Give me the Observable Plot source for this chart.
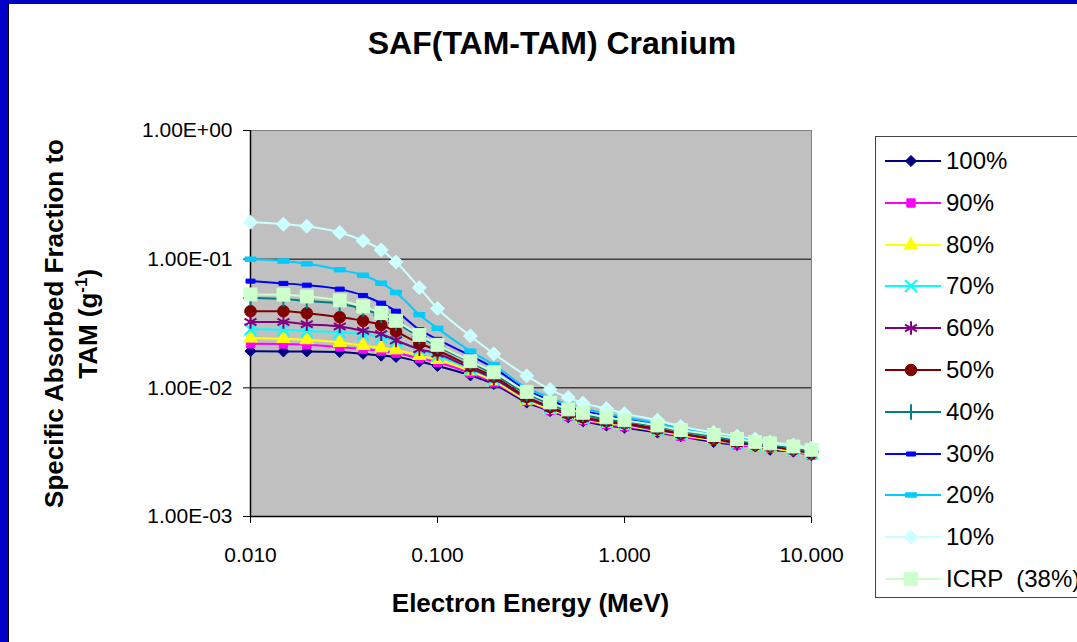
<!DOCTYPE html>
<html>
<head>
<meta charset="utf-8">
<script src="https://cdn.jsdelivr.net/npm/d3@7"></script>
<script src="https://cdn.jsdelivr.net/npm/@observablehq/plot@0.6"></script>
<style>
  html, body { margin: 0; padding: 0; background: #fff; overflow: hidden; }
  #frame { position: relative; width: 1077px; height: 642px; overflow: hidden; background: #0000c8; font-family: "Liberation Sans", Arial, sans-serif; }
  #inner { position: absolute; left: 8px; top: 3px; width: 1200px; height: 700px; background: #fff; border-left: 1px solid #000; border-top: 1px solid #000; }
  .abs { position: absolute; }
  #title { left: 0; width: 1104px; top: 25px; text-align: center; font-weight: bold; font-size: 32px; }
  #xtitle { left: 250px; width: 561px; top: 588px; text-align: center; font-weight: bold; font-size: 26px; }
  .ytitle { width: 500px; text-align: center; font-weight: bold; font-size: 26px; transform-origin: center center; transform: rotate(-90deg); }
  #legend { left: 875px; top: 136px; width: 400px; height: 462px; border: 1px solid #444; background: #fff; box-sizing: border-box; }
  .lrow { position: absolute; left: 0; height: 30px; display: flex; align-items: center; font-size: 24px; white-space: pre; }
  .lrow svg { margin-left: 9px; margin-right: 5px; }
</style>
</head>
<body>
<div id="frame">
  <div id="inner"></div>
  <div id="plotholder" class="abs" style="left:0;top:0;"></div>
  <div id="title" class="abs">SAF(TAM-TAM) Cranium</div>
  <div id="xtitle" class="abs">Electron Energy (MeV)</div>
  <div class="abs ytitle" style="left:-196px; top:308px;">Specific Absorbed Fraction to</div>
  <div class="abs ytitle" style="left:-162px; top:308px;">TAM (g<sup style="font-size:17px">-1</sup>)</div>
  <div id="legend" class="abs"></div>
</div>
<script>
// ---- data ----
const energies = [0.01, 0.015, 0.02, 0.03, 0.04, 0.05, 0.06, 0.08, 0.1, 0.15, 0.2, 0.3, 0.4, 0.5, 0.6, 0.8, 1, 1.5, 2, 3, 4, 5, 6, 8, 10];
const seriesNames = ["100%", "90%", "80%", "70%", "60%", "50%", "40%", "30%", "20%", "10%", "ICRP  (38%)"];
const saf100 = [0.0193, 0.0192, 0.0192, 0.0190, 0.0184, 0.0178, 0.0174, 0.0160, 0.0148, 0.0125, 0.0107, 0.0077, 0.0066, 0.0059, 0.0055, 0.0051, 0.0049, 0.0045, 0.0042, 0.0038, 0.0036, 0.0035, 0.0033, 0.0032, 0.0030];
const saf90  = [0.0220, 0.0219, 0.0216, 0.0208, 0.0200, 0.0193, 0.0186, 0.0170, 0.0158, 0.0130, 0.0110, 0.0079, 0.0067, 0.0060, 0.0056, 0.0052, 0.0050, 0.0046, 0.0042, 0.0039, 0.0036, 0.0035, 0.0034, 0.0032, 0.0030];
const saf80  = [0.0243, 0.0241, 0.0236, 0.0225, 0.0213, 0.0204, 0.0197, 0.0178, 0.0166, 0.0135, 0.0113, 0.0080, 0.0068, 0.0061, 0.0057, 0.0053, 0.0051, 0.0046, 0.0043, 0.0039, 0.0037, 0.0035, 0.0034, 0.0032, 0.0031];
const saf70  = [0.0285, 0.0283, 0.0276, 0.0270, 0.0260, 0.0248, 0.0230, 0.0198, 0.0178, 0.0140, 0.0117, 0.0083, 0.0070, 0.0062, 0.0058, 0.0054, 0.0052, 0.0047, 0.0044, 0.0040, 0.0037, 0.0036, 0.0035, 0.0033, 0.0031];
const saf60  = [0.0325, 0.0325, 0.0312, 0.0300, 0.0278, 0.0262, 0.0234, 0.0200, 0.0184, 0.0142, 0.0118, 0.0083, 0.0070, 0.0062, 0.0058, 0.0054, 0.0052, 0.0047, 0.0044, 0.0040, 0.0037, 0.0036, 0.0035, 0.0033, 0.0031];
const saf50  = [0.0394, 0.0394, 0.0380, 0.0354, 0.0332, 0.0308, 0.0274, 0.0222, 0.0195, 0.0148, 0.0122, 0.0085, 0.0071, 0.0063, 0.0059, 0.0055, 0.0053, 0.0048, 0.0044, 0.0040, 0.0038, 0.0036, 0.0035, 0.0033, 0.0031];
const saf40  = [0.0500, 0.0490, 0.0472, 0.0450, 0.0410, 0.0365, 0.0320, 0.0250, 0.0210, 0.0158, 0.0128, 0.0090, 0.0075, 0.0066, 0.0062, 0.0057, 0.0055, 0.0050, 0.0046, 0.0042, 0.0039, 0.0037, 0.0036, 0.0034, 0.0032];
const saf30  = [0.0675, 0.0648, 0.0628, 0.0585, 0.0522, 0.0455, 0.0394, 0.0283, 0.0238, 0.0178, 0.0143, 0.0096, 0.0080, 0.0071, 0.0066, 0.0061, 0.0058, 0.0052, 0.0048, 0.0043, 0.0040, 0.0038, 0.0037, 0.0035, 0.0033];
const saf20  = [0.1000, 0.0966, 0.0920, 0.0828, 0.0750, 0.0650, 0.0550, 0.0370, 0.0290, 0.0193, 0.0151, 0.0100, 0.0084, 0.0074, 0.0069, 0.0063, 0.0059, 0.0053, 0.0048, 0.0044, 0.0041, 0.0039, 0.0037, 0.0035, 0.0033];
const saf10  = [0.194, 0.187, 0.180, 0.161, 0.139, 0.118, 0.095, 0.060, 0.0414, 0.0253, 0.0184, 0.0124, 0.0097, 0.0084, 0.0076, 0.0069, 0.0063, 0.0056, 0.0050, 0.0045, 0.0042, 0.0040, 0.0038, 0.0036, 0.0034];
const safICRP = [0.0532, 0.0530, 0.0513, 0.0478, 0.0429, 0.0381, 0.0332, 0.0258, 0.0216, 0.0161, 0.0132, 0.0093, 0.0077, 0.0068, 0.0064, 0.0059, 0.0056, 0.0051, 0.0047, 0.0043, 0.0040, 0.0038, 0.0037, 0.0035, 0.0033];
const xTicks = [0.01, 0.1, 1, 10];
const yTicks = [1, 0.1, 0.01, 0.001];
const gridValues = [0.1, 0.01];

// ---- styling per series ----
const dash = (ratio) => ({
  draw(ctx, size) {
    const s = Math.sqrt(size / Math.PI);
    ctx.moveTo(-s, -s * ratio); ctx.lineTo(s, -s * ratio); ctx.lineTo(s, s * ratio); ctx.lineTo(-s, s * ratio); ctx.closePath();
  }
});
const styles = {
  "100%": {color: "#000080", symbol: "diamond2", d3sym: d3.symbolDiamond2, r: 5, filled: true},
  "90%": {color: "#ff00ff", symbol: "square", d3sym: d3.symbolSquare, r: 4.7, filled: true},
  "80%": {color: "#ffff00", symbol: "triangle", d3sym: d3.symbolTriangle, r: 5, filled: true},
  "70%": {color: "#00ffff", symbol: "times", d3sym: d3.symbolTimes, r: 5.5, filled: false},
  "60%": {color: "#800080", symbol: "asterisk", d3sym: d3.symbolAsterisk, r: 6.5, filled: false},
  "50%": {color: "#800000", symbol: "circle", d3sym: d3.symbolCircle, r: 5.8, filled: true},
  "40%": {color: "#008080", symbol: "plus", d3sym: d3.symbolPlus, r: 5, filled: false},
  "30%": {color: "#0000ff", symbol: dash(0.45), d3sym: dash(0.45), r: 4.5, filled: true},
  "20%": {color: "#00ccff", symbol: dash(0.4), d3sym: dash(0.4), r: 5.5, filled: true},
  "10%": {color: "#ccffff", symbol: "diamond2", d3sym: d3.symbolDiamond2, r: 6.3, filled: true},
  "ICRP  (38%)": {color: "#ccffcc", symbol: "square", d3sym: d3.symbolSquare, r: 7.3, filled: true}
};
const seriesValues = [saf100, saf90, saf80, saf70, saf60, saf50, saf40, saf30, saf20, saf10, safICRP];

const rows = [];
seriesNames.forEach((name, i) => energies.forEach((e, j) => rows.push({series: name, energy: e, saf: seriesValues[i][j]})));

const fmtY = d => { const e = Math.round(Math.log10(d)); return "1.00E" + (e < 0 ? "-" : "+") + String(Math.abs(e)).padStart(2, "0"); };

const marks = [
  Plot.frame({fill: "#c0c0c0", stroke: "#808080"}),
  Plot.ruleY(gridValues, {stroke: "#000", strokeWidth: 1}),
  Plot.ruleX([0.01], {stroke: "#000", strokeWidth: 1.5}),
  Plot.ruleY([0.001], {stroke: "#000", strokeWidth: 1.5})
];
seriesNames.forEach(name => {
  const st = styles[name];
  const d = rows.filter(r => r.series === name);
  marks.push(Plot.line(d, {x: "energy", y: "saf", stroke: st.color, strokeWidth: 2, curve: "monotone-x"}));
  marks.push(Plot.dot(d, st.filled
    ? {x: "energy", y: "saf", symbol: st.symbol, r: st.r, fill: st.color, stroke: st.color, strokeWidth: 1}
    : {x: "energy", y: "saf", symbol: st.symbol, r: st.r, fill: "none", stroke: st.color, strokeWidth: 2}));
});

const chart = Plot.plot({
  width: 870,
  height: 642,
  marginLeft: 250,
  marginRight: 59,
  marginTop: 130,
  marginBottom: 126,
  style: {background: "transparent", fontFamily: "'Liberation Sans', Arial, sans-serif", fontSize: "21px", color: "#000", overflow: "visible"},
  x: {type: "log", domain: [0.01, 10], ticks: xTicks, tickFormat: d3.format(".3f"), tickSize: 7, tickPadding: 24, label: null},
  y: {type: "log", domain: [0.001, 1], ticks: yTicks, tickFormat: fmtY, tickSize: 7, tickPadding: 11, label: null},
  marks
});
document.getElementById("plotholder").appendChild(chart);

// ---- legend ----
const legend = document.getElementById("legend");
seriesNames.forEach((name, i) => {
  const st = styles[name];
  const row = document.createElement("div");
  row.className = "lrow";
  row.style.top = (9 + i * 41.8) + "px";
  const svg = d3.create("svg").attr("width", 56).attr("height", 20);
  svg.append("line").attr("x1", 0).attr("x2", 56).attr("y1", 10).attr("y2", 10).attr("stroke", st.color).attr("stroke-width", 2);
  svg.append("path")
    .attr("transform", "translate(26,10)")
    .attr("d", d3.symbol(st.d3sym, Math.PI * st.r * st.r)())
    .attr("fill", st.filled ? st.color : "none")
    .attr("stroke", st.color)
    .attr("stroke-width", st.filled ? 1 : 2);
  row.appendChild(svg.node());
  const t = document.createElement("span");
  t.textContent = name;
  row.appendChild(t);
  legend.appendChild(row);
});
</script>
</body>
</html>
